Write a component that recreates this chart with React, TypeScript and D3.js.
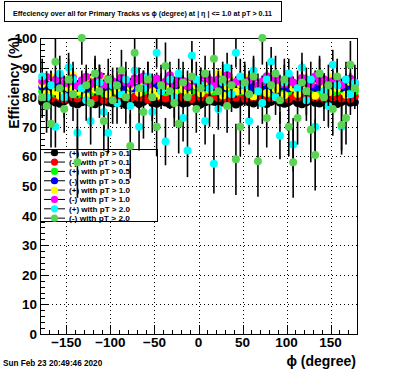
import React from 'react';
import * as d3 from 'd3';

const W = 396;
const H = 372;

const titleText = 'Effeciency over all for Primary Tracks vs \u03d5 (degree) at |  \u03b7 | <= 1.0 at pT > 0.11';
const xTitle = '\u03d5 (degree)';
const yTitle = 'Efficiency (%)';
const dateText = 'Sun Feb 23 20:49:46 2020';

const nBins = 72;
const phiMin = -180;
const phiMax = 180;
const xMajorTicks = [-150, -100, -50, 0, 50, 100, 150];
const yMajorTicks = [0, 10, 20, 30, 40, 50, 60, 70, 80, 90, 100];

const seriesNames = [
  '(+) with pT > 0.1',
  '(-) with pT > 0.1',
  '(+) with pT > 0.5',
  '(-) with pT > 0.5',
  '(+) with pT > 1.0',
  '(-) with pT > 1.0',
  '(+) with pT > 2.0',
  '(-) with pT > 2.0',
];
const seriesColors = ['#000000', '#ff0000', '#00ff00', '#0000ff', '#ffff00', '#ff00ff', '#00ffff', '#59d454'];

const posPt01 = [78.5,78.0,79.0,78.2,77.8,78.6,79.2,78.0,77.5,78.3,
  78.9,78.1,77.6,78.4,79.0,78.2,77.9,78.6,78.0,77.4,
  78.8,78.3,77.7,78.5,79.1,78.0,77.8,78.6,78.2,77.5,
  78.9,78.4,77.9,78.1,78.7,78.0,77.6,78.3,79.0,78.5,
  77.8,78.2,78.8,78.1,77.5,78.4,79.0,78.3,77.9,78.6,
  78.0,77.7,78.5,79.1,78.2,77.8,78.4,78.9,78.0,77.6,
  78.3,78.8,78.1,77.9,78.5,79.0,78.2,77.7,78.4,78.9,
  78.1,78.3];
const negPt01 = [79.8,80.2,79.5,80.6,79.9,79.2,80.4,80.0,79.6,80.8,
  79.4,80.1,79.7,80.3,79.0,80.5,79.9,79.3,80.7,80.0,
  79.5,80.2,79.8,80.6,79.1,80.3,79.9,80.4,79.6,80.1,
  79.3,80.5,79.8,80.0,79.4,80.7,79.9,80.2,79.5,80.3,
  79.7,80.6,79.2,80.0,79.8,80.4,79.5,80.1,79.9,80.5,
  79.3,80.2,79.7,80.8,79.6,80.0,79.4,80.3,79.9,80.6,
  79.2,80.1,79.8,80.4,79.5,80.2,79.9,80.7,79.6,80.0,
  79.4,80.3];
const posPt05 = [82.0,81.4,83.1,81.2,82.6,83.4,81.8,82.3,80.9,82.7,
  83.2,81.6,82.1,83.0,81.3,82.4,83.5,81.9,82.2,81.1,
  82.8,83.3,81.5,82.0,82.9,81.4,82.5,83.6,81.7,82.3,
  81.0,82.6,83.2,81.8,82.1,82.9,81.3,82.4,83.1,81.9,
  82.2,81.2,82.7,83.4,81.6,82.0,82.8,81.5,82.5,83.0,
  81.8,82.3,81.1,82.6,83.2,81.7,82.1,82.9,81.4,82.4,
  83.1,81.9,82.2,81.3,82.7,83.3,81.6,82.0,82.8,81.5,
  82.5,82.0];
const negPt05 = [83.6,84.2,82.9,83.8,84.6,83.1,82.7,84.0,83.5,84.8,
  82.8,83.9,84.3,83.2,82.6,84.1,83.7,84.9,83.0,83.6,
  84.4,82.9,83.8,84.2,83.3,82.5,84.0,83.6,84.7,83.1,
  83.9,84.5,82.8,83.4,84.1,83.7,82.6,84.3,83.2,84.8,
  83.5,82.9,84.0,83.6,84.4,83.0,83.8,84.6,82.7,83.9,
  84.2,83.3,82.8,84.1,83.5,84.7,83.0,83.7,84.3,82.6,
  83.9,84.5,83.2,83.6,84.0,82.9,83.8,84.4,83.1,83.5,
  84.2,83.7];
const posPt10 = [84.5,81.2,86.8,82.0,80.5,85.3,83.1,87.5,81.8,84.0,
  80.2,85.9,82.6,83.8,86.2,81.0,84.7,82.3,87.0,80.8,
  83.5,85.6,81.5,84.2,86.5,82.1,80.4,85.0,83.3,87.2,
  81.6,84.8,82.7,80.9,86.0,83.9,81.3,85.4,82.5,84.1,
  87.8,80.6,83.6,85.8,81.9,84.4,82.2,86.6,80.3,83.0,
  85.2,81.4,87.1,82.8,84.6,80.7,85.7,83.2,81.1,86.3,
  82.4,84.9,80.5,85.5,83.7,81.7,86.9,82.9,84.3,80.8,
  85.1,83.4];
const negPt10 = [85.5,86.8,84.2,85.9,87.1,84.6,85.2,86.5,83.8,85.7,
  86.9,84.4,85.1,87.3,84.0,86.2,85.4,83.9,86.7,85.0,
  84.5,86.4,85.8,87.0,84.1,85.6,86.3,84.8,85.3,87.4,
  84.3,86.1,85.5,83.7,86.6,85.2,84.7,87.2,85.9,84.2,
  86.0,85.4,87.5,84.6,85.1,86.8,84.0,85.7,86.4,83.8,
  85.3,87.1,84.9,86.2,85.6,84.4,86.9,85.0,83.9,86.5,
  85.8,84.3,87.0,85.2,86.1,84.7,85.5,86.6,84.1,85.9,
  86.3,85.0];
const posPt20 = [87,80,84,70,88,80,90,86,68,83,
  79,72,88,85,75,68,84,78,81,86,
  77,89,70,83,87,75,95,82,65,86,
  80,88,73,62,94,86,84,72,83,57.5,
  76,85,90,81,95,87,84,72,89,82,
  78,86,92,80,67,85,88,64,83,90,
  79,86,70,88,82,77,91,84,70,86,
  81,85];
const negPt20 = [80,77,71,92,83,76,86,81,58,100,
  84,78,88,82,72,86,79,84,89,80,
  63.5,95,83,75,86,80,70,84,90.5,82,
  78,71,85,80,87,76,83,88,79,93,
  82,86,77,84,59,70,85,81,87,58.4,
  100,73,84,88,79,86,70,58,73,85,
  82,69,60.5,88,80,84,76,87,70.6,73,
  91,83];

const errPt01 = [0.8, 0.8, 1.2, 1.2, 2.0, 2.0];
const errPosPt20 = [6,8,5,7,6,7,5,6,8,6, 7,8,5,6,8,7,6,7,5,6, 7,5,8,6,5,7,5,6,8,6,
  7,5,8,9,5,6,6,8,6,10, 7,6,5,6,5,6,7,8,5,6, 7,6,5,6,8,6,5,9,6,5, 7,6,8,5,6,7,5,6,8,6, 7,6];
const errNegPt20 = [7,9,8,10,6,8,7,9,12,9, 7,8,6,9,10,7,8,6,7,9, 11,8,7,9,6,8,10,7,8,6,
  8,10,7,9,6,8,7,6,9,8, 7,6,9,7,12,10,7,8,6,12, 9,10,7,6,8,7,10,12,9,7, 8,11,12,6,8,7,9,6,10,9, 8,7];

const seriesValues = [posPt01, negPt01, posPt05, negPt05, posPt10, negPt10, posPt20, negPt20];

const FONT = '"Liberation Sans", Arial, Helvetica, sans-serif';

export default function App() {
  const x = d3.scaleLinear().domain([phiMin, phiMax]).range([40, 357]);
  const y = d3.scaleLinear().domain([0, 100]).range([334, 38]);
  const binW = (phiMax - phiMin) / nBins;
  const centers = d3.range(nBins).map((i) => phiMin + binW * (i + 0.5));
  const xMinor = d3.range(phiMin, phiMax + 0.1, 10);
  const yMinor = d3.range(0, 100.1, 2);
  const [x0, x1] = x.range();
  const [yb, yt] = y.range();

  const errOf = (s: number, i: number) => {
    if (s < 6) return errPt01[s];
    if (s === 6) return errPosPt20[i];
    return errNegPt20[i];
  };

  const legendRows = seriesNames.map((n, i) => ({ n, c: seriesColors[i], yy: 152.7 + i * 9.35 }));

  return (
    <svg width={W} height={H} style={{ position: 'fixed', left: 0, top: 0, background: '#fff' }} fontFamily={FONT}>
      <rect x={0} y={0} width={W} height={H} fill="#fff" />
      {/* grid */}
      <g stroke="#000" strokeWidth={1} strokeDasharray="1,3" shapeRendering="crispEdges">
        {xMajorTicks.map((t) => (
          <line key={'gx' + t} x1={Math.round(x(t)) + 0.5} x2={Math.round(x(t)) + 0.5} y1={yt} y2={yb} />
        ))}
        {yMajorTicks.filter((t) => t > 0 && t < 100).map((t) => (
          <line key={'gy' + t} x1={x0} x2={x1} y1={Math.round(y(t)) + 0.5} y2={Math.round(y(t)) + 0.5} />
        ))}
      </g>
      {/* frame */}
      <rect x={x0 + 0.5} y={yt + 0.5} width={x1 - x0} height={yb - yt} fill="none" stroke="#000" shapeRendering="crispEdges" />
      {/* axis ticks */}
      <g stroke="#000" strokeWidth={1} shapeRendering="crispEdges">
        {xMinor.map((t) => {
          const major = xMajorTicks.includes(t);
          const px = Math.round(x(t)) + 0.5;
          return <line key={'tx' + t} x1={px} x2={px} y1={yb} y2={yb - (major ? 9 : 4.5)} />;
        })}
        {yMinor.map((t) => {
          const major = t % 10 === 0;
          const py = Math.round(y(t)) + 0.5;
          return <line key={'ty' + t} x1={x0} x2={x0 + (major ? 9 : 4.5)} y1={py} y2={py} />;
        })}
      </g>
      {/* tick labels */}
      <g fontWeight="bold" fontSize={13.5} fill="#000">
        {xMajorTicks.map((t) => (
          <text key={'lx' + t} x={x(t)} y={347} textAnchor="middle">{t < 0 ? '\u2212' + Math.abs(t) : String(t)}</text>
        ))}
        {yMajorTicks.map((t) => (
          <text key={'ly' + t} x={37} y={y(t) + 5} textAnchor="end">{t}</text>
        ))}
      </g>
      <text x={356} y={366} textAnchor="end" fontWeight="bold" fontSize={14}>{xTitle}</text>
      <text transform="translate(19,37) rotate(-90)" textAnchor="end" fontWeight="bold" fontSize={14}>{yTitle}</text>
      <text x={3} y={366} fontWeight="bold" fontSize={8.2}>{dateText}</text>
      {/* title */}
      <rect x={4.5} y={1.5} width={277} height={20} fill="#fff" stroke="#000" shapeRendering="crispEdges" />
      <text x={13} y={15.5} fontWeight="bold" fontSize={8} textLength={259} lengthAdjust="spacingAndGlyphs">{titleText}</text>
      {/* legend */}
      <rect x={40.5} y={149.5} width={117} height={72} fill="#fff" stroke="#000" shapeRendering="crispEdges" />
      {legendRows.map((r) => (
        <g key={r.n}>
          <line x1={44} x2={65} y1={r.yy} y2={r.yy} stroke="#000" />
          <circle cx={54.5} cy={r.yy} r={3.6} fill={r.c} />
          <text x={69} y={r.yy + 3} fontWeight="bold" fontSize={8} textLength={61} lengthAdjust="spacingAndGlyphs">{r.n}</text>
        </g>
      ))}
      {/* data */}
      {seriesValues.map((vals, s) => (
        <g key={'s' + s}>
          {vals.map((v, i) => {
            const e = errOf(s, i);
            const lo = Math.max(0, v - e);
            const hi = Math.min(100, v + e);
            const px = x(centers[i]);
            return <line key={'e' + i} x1={px} x2={px} y1={y(lo)} y2={y(hi)} stroke="#000" strokeWidth={1.6} />;
          })}
          {vals.map((v, i) => (
            <circle key={'m' + i} cx={x(centers[i])} cy={y(v)} r={4} fill={seriesColors[s]} />
          ))}
        </g>
      ))}
    </svg>
  );
}
